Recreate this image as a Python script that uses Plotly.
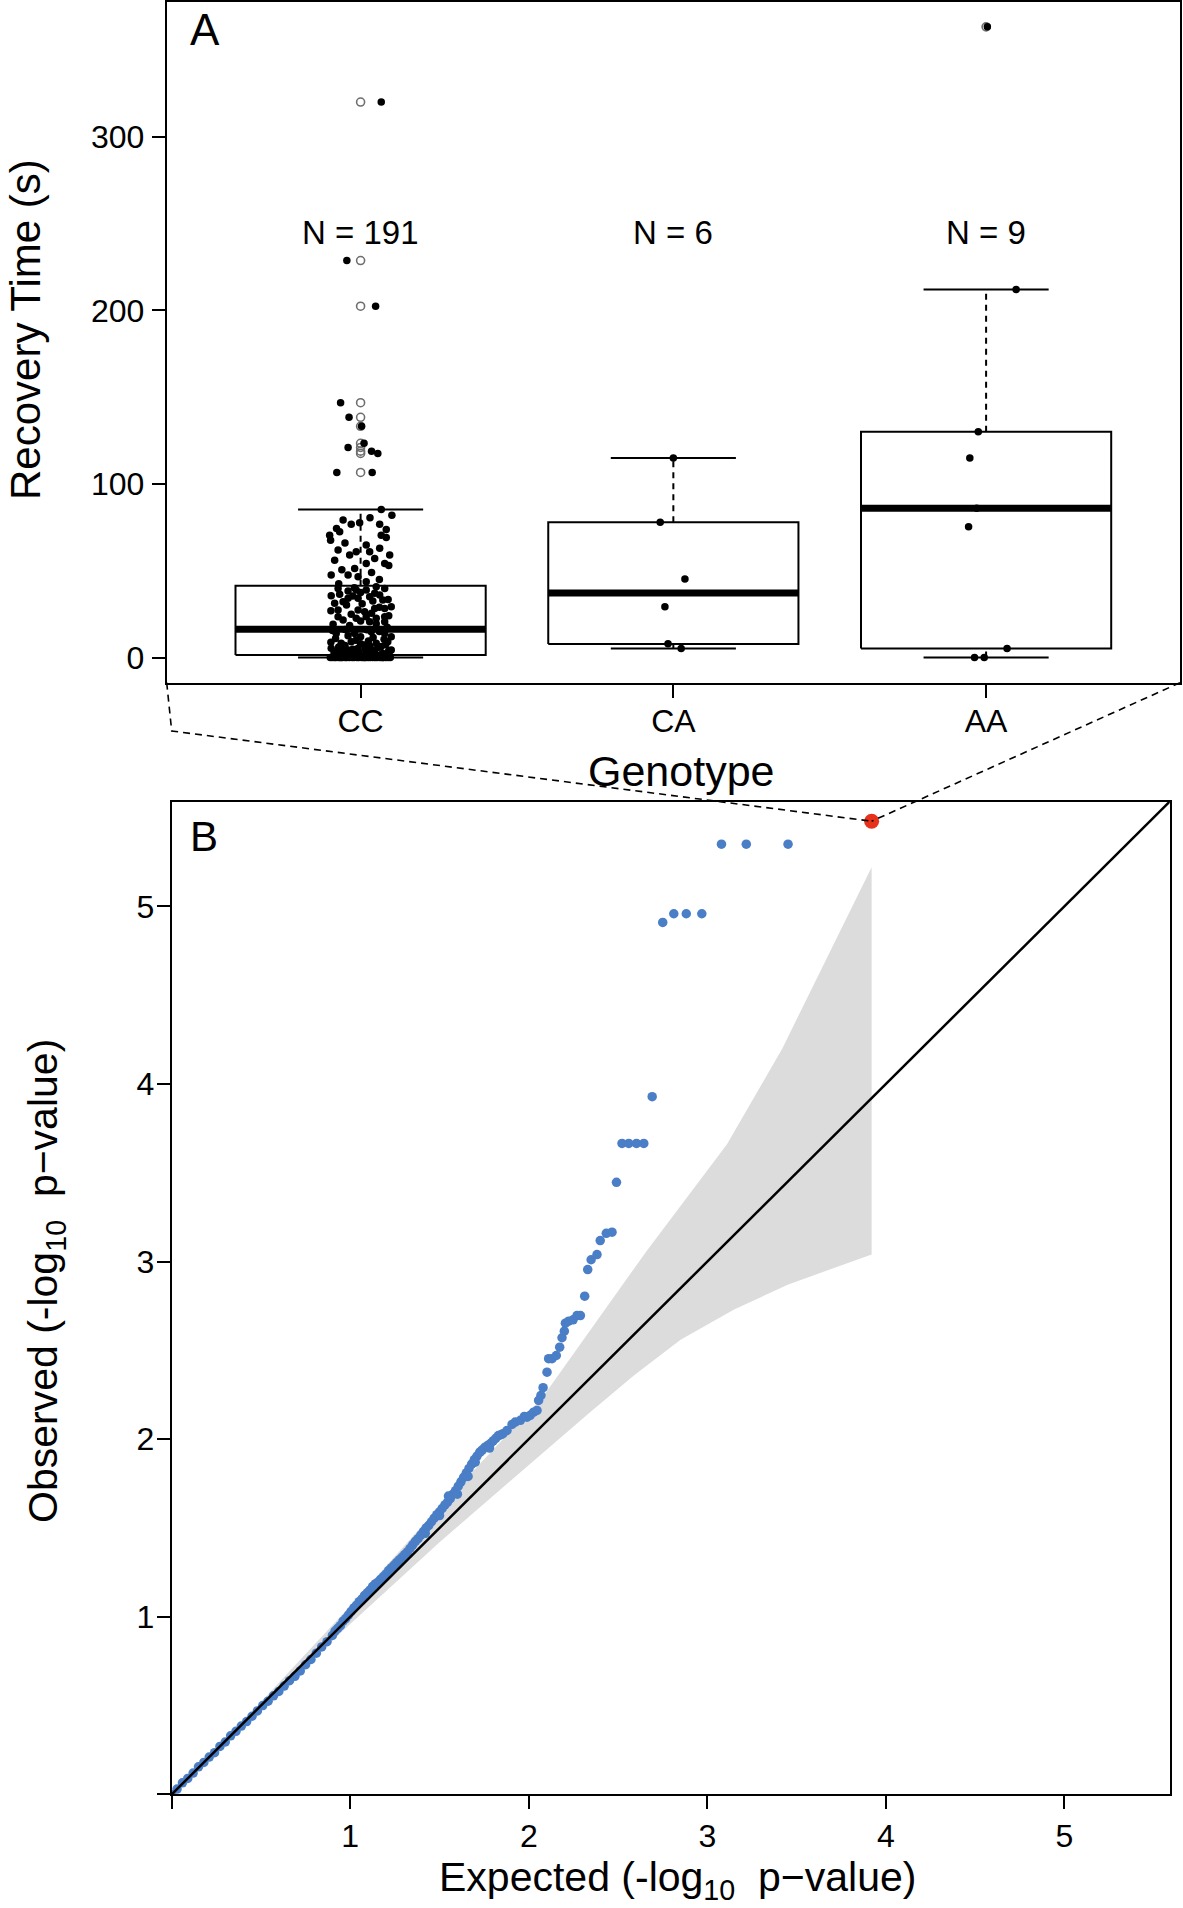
import plotly.graph_objects as go

# ---------------- Panel A data ----------------
genotypes = ["CC", "CA", "AA"]
group_n = [191, 6, 9]

# box statistics (lower whisker, Q1, median, Q3, upper whisker)
box_lo = [0.0, 5.2, 0.0]
box_q1 = [1.4, 7.8, 5.2]
box_med = [16.3, 37.2, 86.0]
box_q3 = [41.3, 78.0, 130.0]
box_hi = [85.3, 115.0, 212.0]

# outliers (open grey circles at group centre)
cc_outliers = [320.0, 228.7, 202.4, 146.8, 138.4, 133.2, 123.4, 121.0, 118.9, 117.6, 106.6]
aa_outliers = [363.3]

# CC jittered points: values and horizontal jitter offsets
cc_values = [
    320.0, 228.7, 202.4, 146.8, 138.4, 133.2, 123.4, 121.0, 118.9, 117.6, 106.6, 106.6,
    85.3, 82.0, 80.5, 79.2, 77.6, 76.8, 76.8, 74.4, 73.8, 72.5, 70.5, 70.5, 69.2, 67.6,
    66.0, 64.8, 62.9, 61.9, 61.0, 61.0, 59.0, 59.0, 57.0, 56.1, 54.2, 54.2, 53.0, 51.3,
    50.5, 49.0, 47.5, 47.5, 46.5, 45.0, 43.6, 42.5,
    40.8, 39.8, 39.8, 40.2, 38.9, 38.9, 38.3, 37.5, 37.0, 36.4, 36.0, 35.6, 35.5, 35.0,
    34.1, 34.1, 33.5, 33.1, 32.5, 32.1, 31.2, 31.0, 30.2, 29.3, 29.0, 28.3, 28.3, 27.4,
    27.4, 27.0, 26.4, 25.5, 25.0, 24.0, 23.5, 23.5, 23.5, 22.6, 22.6, 21.6, 21.0, 20.6,
    20.6, 19.5, 19.1, 18.5, 17.5,
    16.2, 16.0, 15.5, 15.0, 14.9, 13.9, 13.9, 13.9, 12.5, 12.0, 12.0, 11.5, 11.0, 10.5,
    10.0, 9.5, 9.1, 9.1, 8.8, 8.2, 8.2, 8.0, 7.5, 7.2, 7.0, 6.5, 6.3, 6.0, 5.8, 5.3,
    5.3, 5.0, 4.8, 4.3, 4.3, 4.3, 4.3, 4.0, 3.8, 3.5, 3.0, 2.8, 2.5, 2.2, 2.0, 1.8, 1.6,
    0.3, 0.4, 0.5, 0.6, 0.7, 0.8, 0.9, 1.0, 1.0, 1.1, 1.2, 1.2, 1.3, 1.3, 1.4, 1.4, 1.4,
    0.0, 0.0, 0.0, 0.0, 0.0, 0.0, 0.0, 0.0, 0.0, 0.0, 0.0, 0.0, 0.0, 0.0, 0.0, 0.0,
    0.0, 0.0, 0.0, 0.0, 0.0, 0.0, 0.0, 0.0, 0.0, 0.0, 0.0, 0.0, 0.0, 0.0, 0.0,
]
cc_jitter = [
    0.066, -0.044, 0.048, -0.064, -0.037, 0.003, 0.011, -0.040, 0.035, 0.055, -0.076, 0.037,
    0.066, 0.100, 0.030, -0.056, -0.003, -0.030, 0.061, -0.077, 0.082, -0.067, -0.099, 0.066, 0.082, -0.096,
    -0.050, 0.018, 0.061, -0.072, -0.014, 0.029, -0.035, 0.093, 0.045, -0.083, 0.077, 0.018, 0.090, -0.019,
    -0.060, 0.035, -0.094, -0.040, -0.008, 0.060, 0.018, -0.070,
    0.050, -0.072, 0.077, -0.020, -0.014, 0.018, -0.040, 0.000, 0.045, -0.067, 0.061, -0.094, -0.025, 0.029,
    -0.040, -0.008, 0.088, 0.071, 0.039, -0.056, -0.083, 0.005, -0.045, 0.098, 0.060, 0.045, 0.077, -0.072,
    -0.008, -0.095, 0.013, 0.035, -0.030, 0.090, -0.072, 0.018, 0.077, -0.014, 0.050, -0.056, 0.000, 0.029,
    0.077, 0.050, -0.088, -0.035, 0.085,
    -0.050, 0.020, -0.090, 0.060, 0.034, -0.078, -0.019, 0.077, -0.040, 0.000, 0.098, 0.040, -0.080, 0.075,
    -0.015, 0.025, -0.030, 0.087, -0.095, -0.062, 0.050, 0.000, 0.080, 0.013, -0.050, 0.030, 0.066, -0.070, 0.055, -0.094,
    -0.008, 0.015, -0.025, -0.072, -0.040, 0.034, 0.098, 0.090, -0.060, 0.045, -0.005, -0.085, 0.070, 0.020, -0.035, 0.085, -0.075,
    -0.088, 0.042, -0.031, 0.078, -0.067, 0.019, -0.005, 0.093, -0.052, 0.057, -0.082, 0.034, -0.016, 0.068, -0.041, 0.008, 0.087,
    -0.097, -0.091, -0.084, -0.079, -0.071, -0.066, -0.058, -0.049, -0.044, -0.036, -0.027, -0.021, -0.012, -0.006, 0.003, 0.009,
    0.017, 0.024, 0.031, 0.039, 0.046, 0.052, 0.061, 0.067, 0.074, 0.081, 0.088, 0.095, -0.062, 0.013, 0.071,
]

ca_values = [115.0, 78.0, 45.3, 29.2, 8.0, 5.2]
ca_jitter = [0.000, -0.042, 0.037, -0.027, -0.017, 0.025]

aa_values = [363.3, 212.0, 130.0, 115.0, 86.0, 75.4, 5.2, 0.0, 0.0]
aa_jitter = [0.004, 0.096, -0.025, -0.052, -0.030, -0.056, 0.067, -0.037, -0.006]

# ---------------- Panel B data ----------------
qq_expected = [
    0.00, 0.03, 0.06, 0.09, 0.12, 0.15, 0.18, 0.21, 0.24, 0.27, 0.30, 0.33, 0.36, 0.39,
    0.42, 0.45, 0.48, 0.51, 0.54, 0.57, 0.60, 0.63, 0.66, 0.69, 0.72, 0.75, 0.78, 0.81,
    0.84, 0.87, 0.90, 0.93, 0.96, 0.99, 1.02, 1.05, 1.08, 1.11, 1.14, 1.17, 1.20, 1.23,
    1.26, 1.29, 1.32, 1.35, 1.38, 1.41, 1.44, 1.47, 1.50, 1.53, 1.56, 1.59, 1.62, 1.65,
    1.68, 1.71, 1.74, 1.77, 1.80, 1.83,
    0.915, 0.945, 0.975, 1.005, 1.035, 1.065, 1.095, 1.125, 1.155, 1.185, 1.215, 1.245,
    1.275, 1.305, 1.335, 1.365, 1.395, 1.425, 1.455, 1.485, 1.515, 1.545, 1.575, 1.605,
    1.635, 1.665, 1.695, 1.725, 1.755, 1.785, 1.815, 1.845,
    1.42, 1.50, 1.55, 1.60, 1.66, 1.70, 1.73, 1.78,
    1.855, 1.878, 1.906, 1.924, 1.953, 1.975, 1.990, 2.008, 2.027, 2.046, 2.055, 2.068,
    2.080, 2.102, 2.111, 2.130, 2.154, 2.173, 2.186, 2.199, 2.205, 2.223, 2.248, 2.270,
    2.289, 2.313, 2.330, 2.349, 2.382, 2.400, 2.434, 2.466, 2.491, 2.522, 2.560, 2.603,
    2.644, 2.691, 2.750, 2.812, 2.882, 2.969, 3.079, 3.218, 3.452,
]
qq_observed = [
    0.00, 0.03, 0.065, 0.09, 0.12, 0.155, 0.18, 0.21, 0.235, 0.27, 0.295, 0.33, 0.355, 0.385,
    0.41, 0.44, 0.47, 0.50, 0.525, 0.555, 0.58, 0.61, 0.64, 0.665, 0.695, 0.73, 0.76, 0.795,
    0.83, 0.86, 0.895, 0.935, 0.975, 1.01, 1.05, 1.085, 1.12, 1.15, 1.185, 1.21, 1.24, 1.275,
    1.305, 1.335, 1.365, 1.405, 1.44, 1.48, 1.515, 1.555, 1.59, 1.63, 1.665, 1.71, 1.76, 1.81,
    1.86, 1.905, 1.94, 1.965, 1.99, 2.02,
    0.92, 0.95, 0.99, 1.03, 1.065, 1.10, 1.135, 1.17, 1.195, 1.225, 1.26, 1.29,
    1.32, 1.35, 1.385, 1.425, 1.46, 1.50, 1.535, 1.575, 1.61, 1.645, 1.69, 1.735,
    1.785, 1.835, 1.885, 1.925, 1.955, 1.975, 2.005, 2.025,
    1.47, 1.57, 1.68, 1.69, 1.79, 1.87, 1.93, 1.95,
    2.031, 2.049, 2.083, 2.096, 2.106, 2.128, 2.124, 2.134, 2.152, 2.162, 2.218, 2.246,
    2.290, 2.377, 2.453, 2.453, 2.471, 2.518, 2.571, 2.608, 2.653, 2.664, 2.672, 2.696,
    2.696, 2.805, 2.955, 3.010, 3.039, 3.118, 3.159, 3.165, 3.446, 3.665, 3.665, 3.665,
    3.665, 3.928, 4.909, 4.958, 4.958, 4.958, 5.350, 5.350, 5.350,
]
top_hit_expected = [3.920]
top_hit_observed = [5.479]

band_upper_x = [0.0, 0.5, 1.0, 1.5, 2.08, 2.66, 3.11, 3.42, 3.92]
band_upper_y = [0.0, 0.52, 1.06, 1.62, 2.24, 3.06, 3.66, 4.20, 5.22]
band_lower_x = [3.92, 3.45, 3.15, 2.85, 2.59, 2.33, 2.10, 1.50, 1.0, 0.5, 0.0]
band_lower_y = [3.04, 2.87, 2.73, 2.56, 2.36, 2.14, 1.94, 1.42, 0.96, 0.49, 0.0]

qq_ticks = [1, 2, 3, 4, 5]
qq_limit = 5.59
a_yrange = [-14.5, 377.8]
a_xrange = [0.38, 3.62]

# ---------------- layout geometry (pixels) ----------------
W, H = 1183, 1908
def px(x):
    return x / W
def py(y):
    return 1 - y / H

A_dom_x = [px(166.7), px(1180.0)]
A_dom_y = [py(682.7), py(1.7)]
B_dom_x = [px(171.7), px(1169.8)]
B_dom_y = [py(1794.4), py(801.5)]

FONT = "Liberation Sans, Arial, Helvetica, sans-serif"
BLUE = "#4a7ec6"
RED = "#e8311a"

fig = go.Figure()

# ---- Panel A boxes ----
for i in range(3):
    c = i + 1
    kw = dict(xaxis="x", yaxis="y", showlegend=False, hoverinfo="skip", mode="lines")
    fig.add_trace(go.Scatter(x=[c - 0.4, c + 0.4, c + 0.4, c - 0.4, c - 0.4],
                             y=[box_q1[i], box_q1[i], box_q3[i], box_q3[i], box_q1[i]],
                             line=dict(color="black", width=2), **kw))
    fig.add_trace(go.Scatter(x=[c, c], y=[box_q3[i], box_hi[i]],
                             line=dict(color="black", width=2, dash="6px,5px"), **kw))
    fig.add_trace(go.Scatter(x=[c, c], y=[box_lo[i], box_q1[i]],
                             line=dict(color="black", width=2, dash="6px,5px"), **kw))
    fig.add_trace(go.Scatter(x=[c - 0.2, c + 0.2], y=[box_hi[i], box_hi[i]],
                             line=dict(color="black", width=2), **kw))
    fig.add_trace(go.Scatter(x=[c - 0.2, c + 0.2], y=[box_lo[i], box_lo[i]],
                             line=dict(color="black", width=2), **kw))
    fig.add_trace(go.Scatter(x=[c - 0.4, c + 0.4], y=[box_med[i], box_med[i]],
                             line=dict(color="black", width=7), **kw))

# outliers
fig.add_trace(go.Scatter(x=[1] * len(cc_outliers) + [3] * len(aa_outliers),
                         y=cc_outliers + aa_outliers, mode="markers",
                         marker=dict(symbol="circle-open", size=8, color="#6e6e6e",
                                     line=dict(width=1.6, color="#6e6e6e")),
                         xaxis="x", yaxis="y", showlegend=False, hoverinfo="skip"))

# jittered points
pts_x = ([1 + j for j in cc_jitter] + [2 + j for j in ca_jitter] + [3 + j for j in aa_jitter])
pts_y = cc_values + ca_values + aa_values
fig.add_trace(go.Scatter(x=pts_x, y=pts_y, mode="markers",
                         marker=dict(size=7.5, color="black"),
                         xaxis="x", yaxis="y", showlegend=False, hoverinfo="skip"))

# ---- Panel B ----
fig.add_trace(go.Scatter(x=band_upper_x + band_lower_x, y=band_upper_y + band_lower_y,
                         fill="toself", fillcolor="#dcdcdd", mode="lines",
                         line=dict(width=0, color="#dcdcdd"),
                         xaxis="x2", yaxis="y2", showlegend=False, hoverinfo="skip"))
fig.add_trace(go.Scatter(x=qq_expected, y=qq_observed, mode="markers",
                         marker=dict(size=9.5, color=BLUE),
                         xaxis="x2", yaxis="y2", showlegend=False, hoverinfo="skip"))
fig.add_trace(go.Scatter(x=[0, qq_limit], y=[0, qq_limit], mode="lines",
                         line=dict(color="black", width=2.5),
                         xaxis="x2", yaxis="y2", showlegend=False, hoverinfo="skip"))
fig.add_trace(go.Scatter(x=top_hit_expected, y=top_hit_observed, mode="markers",
                         marker=dict(size=15, color=RED),
                         xaxis="x2", yaxis="y2", showlegend=False, hoverinfo="skip"))

# ---- connector dashed lines (panel A corners -> highlighted point) ----
hx = B_dom_x[0] + top_hit_expected[0] / qq_limit * (B_dom_x[1] - B_dom_x[0])
hy = B_dom_y[0] + top_hit_observed[0] / qq_limit * (B_dom_y[1] - B_dom_y[0])
dash_line = dict(color="black", width=1.6, dash="7px,5px")
fig.add_shape(type="path", xref="paper", yref="paper",
              path=f"M {A_dom_x[0]} {A_dom_y[0]} L {px(171.7)} {py(731)} L {hx} {hy}",
              line=dash_line)
fig.add_shape(type="line", xref="paper", yref="paper",
              x0=A_dom_x[1], y0=A_dom_y[0], x1=hx, y1=hy, line=dash_line)

axis_common = dict(showline=True, linecolor="black", linewidth=2, mirror=True,
                   ticks="outside", ticklen=13, tickwidth=2, tickcolor="black",
                   showgrid=False, zeroline=False,
                   tickfont=dict(family=FONT, size=32, color="black"))
zero_tick = dict(tickmode="array", tickvals=[0], ticks="outside", ticklen=13,
                 tickwidth=2, tickcolor="black", showgrid=False)

fig.update_layout(
    width=W, height=H,
    margin=dict(l=0, r=0, t=0, b=0),
    paper_bgcolor="white", plot_bgcolor="white",
    font=dict(family=FONT, color="black"),
    xaxis=dict(domain=A_dom_x, anchor="y", range=a_xrange,
               tickvals=[1, 2, 3], ticktext=genotypes, ticklabelstandoff=-4, **axis_common),
    yaxis=dict(domain=A_dom_y, anchor="x", range=a_yrange,
               tickvals=[0, 100, 200, 300], ticklabelstandoff=1, **axis_common),
    xaxis2=dict(domain=B_dom_x, anchor="y2", range=[0, qq_limit],
                tickvals=qq_ticks, minor=zero_tick,
                ticklabelstandoff=-1, **axis_common),
    yaxis2=dict(domain=B_dom_y, anchor="x2", range=[0, qq_limit],
                tickvals=qq_ticks, minor=zero_tick,
                ticklabelstandoff=-4, **axis_common),
)

annotations = [
    dict(text="A", x=px(188), y=py(29), xanchor="left", yanchor="middle", font=dict(size=44)),
    dict(text="B", x=px(188), y=py(837), xanchor="left", yanchor="middle", font=dict(size=42)),
    dict(text="Recovery Time (s)", x=px(26), y=py(330), textangle=-90,
         xanchor="center", yanchor="middle", font=dict(size=42)),
    dict(text="Genotype", x=px(681), y=py(771), xanchor="center", yanchor="middle",
         font=dict(size=43)),
    dict(text="Observed (-log<sub>10</sub>  p\u2212value)", x=px(46), y=py(1281), textangle=-90,
         xanchor="center", yanchor="middle", font=dict(size=41)),
    dict(text="Expected (-log<sub>10</sub>  p\u2212value)", x=px(678), y=py(1880),
         xanchor="center", yanchor="middle", font=dict(size=41)),
]
for a in annotations:
    a.update(xref="paper", yref="paper", showarrow=False)
    a["font"].update(family=FONT, color="black")
for i, n in enumerate(group_n):
    annotations.append(dict(text=f"N = {n}", x=i + 1, y=245, xref="x", yref="y",
                            showarrow=False, xanchor="center", yanchor="middle",
                            font=dict(family=FONT, size=33, color="black")))
fig.update_layout(annotations=annotations)

fig.write_html("out.html", config={"displayModeBar": False},
               post_script="document.body.style.margin='0';")
